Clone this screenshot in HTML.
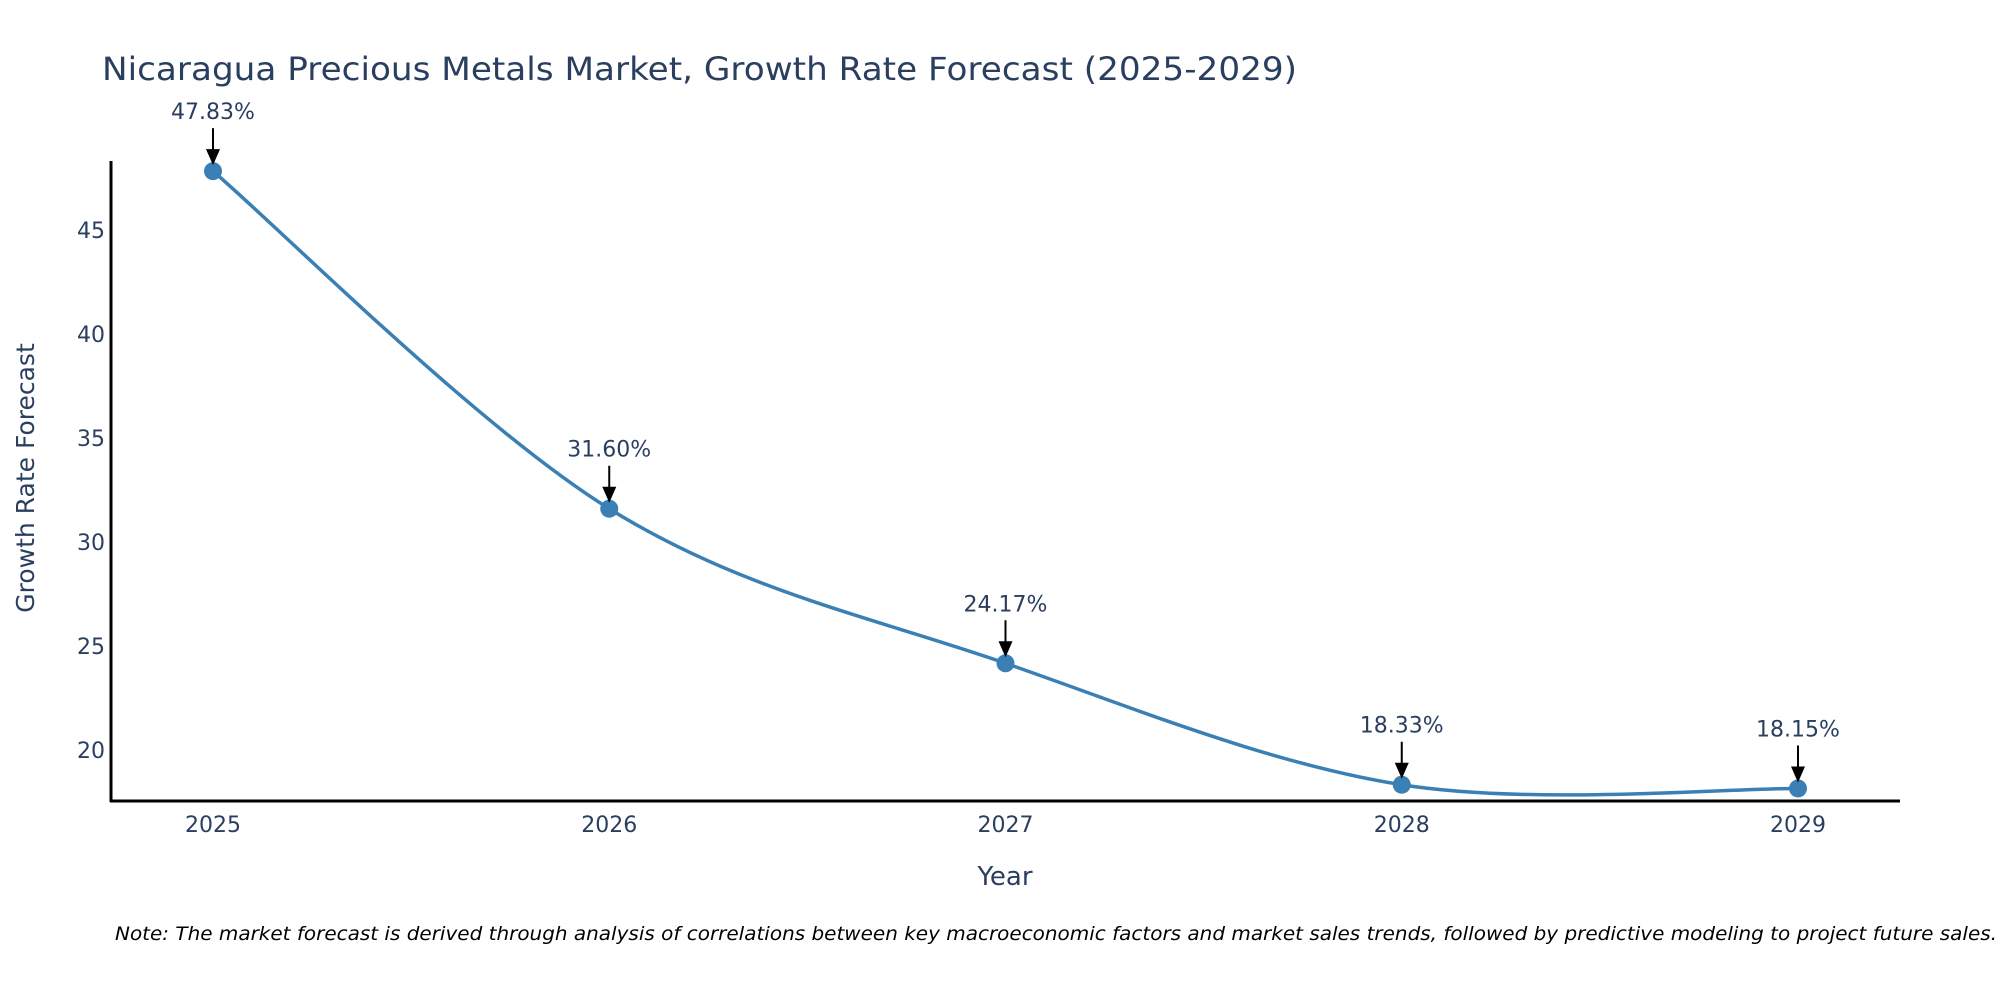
<!DOCTYPE html>
<html><head><meta charset="utf-8"><style>
html,body{margin:0;padding:0;background:#fff;}
svg{display:block;font-family:"DejaVu Sans","Liberation Sans",sans-serif;}
</style></head><body>
<svg id="chart" width="2000" height="1000" viewBox="0 0 2000 1000">
<text x="102" y="80" font-size="32" fill="#2a3f5f" textLength="1195" lengthAdjust="spacingAndGlyphs">Nicaragua Precious Metals Market, Growth Rate Forecast (2025-2029)</text>
<g id="yticks"></g>
<g id="xticks"></g>
<path id="line" fill="none" stroke="#3a80b4" stroke-width="3.5"></path>
<g id="points"></g>
<g id="annots"></g>
<line x1="111" y1="161" x2="111" y2="802" stroke="#000" stroke-width="3"/>
<line x1="110" y1="801" x2="1900" y2="801" stroke="#000" stroke-width="3"/>
<text x="0" y="0" font-size="25" fill="#2a3f5f" text-anchor="middle" transform="translate(34,478) rotate(-90)">Growth Rate Forecast</text>
<text x="1005" y="885" font-size="26" fill="#2a3f5f" text-anchor="middle">Year</text>
<text x="115" y="940" font-size="19" font-style="italic" fill="#000" textLength="1882" lengthAdjust="spacingAndGlyphs">Note: The market forecast is derived through analysis of correlations between key macroeconomic factors and market sales trends, followed by predictive modeling to project future sales.</text>
</svg>
<script>
const years = [2025, 2026, 2027, 2028, 2029];
const values = [47.83, 31.60, 24.17, 18.33, 18.15];
const labels = ["47.83%", "31.60%", "24.17%", "18.33%", "18.15%"];
const yTicks = [20, 25, 30, 35, 40, 45];

const NS = "http://www.w3.org/2000/svg";
function xScale(v){ return 213 + (v - 2025) * (1798 - 213) / 4; }
function yScale(v){ return 750 - (v - 20) * 20.8; }
function mk(tag, attrs, parent){
  const e = document.createElementNS(NS, tag);
  for (const k in attrs) e.setAttribute(k, attrs[k]);
  parent.appendChild(e);
  return e;
}
const yt = document.getElementById('yticks');
yTicks.forEach(t => {
  const e = mk('text', {x:105, y:yScale(t)+8, 'font-size':22, fill:'#2a3f5f', 'text-anchor':'end'}, yt);
  
  
  e.textContent = t;
});
const xt = document.getElementById('xticks');
years.forEach(y => {
  const e = mk('text', {x:xScale(y), y:832, 'font-size':22, fill:'#2a3f5f', 'text-anchor':'middle'}, xt);
  
  
  e.textContent = y;
});
const P = years.map((y,i)=>[xScale(y), yScale(values[i])]);
let d = `M${P[0][0]},${P[0][1]}`;
for (let i=0;i<P.length-1;i++){
  const p0 = P[i-1]||P[i], p1=P[i], p2=P[i+1], p3=P[i+2]||P[i+1];
  const c1=[p1[0]+(p2[0]-p0[0])/6, p1[1]+(p2[1]-p0[1])/6];
  const c2=[p2[0]-(p3[0]-p1[0])/6, p2[1]-(p3[1]-p1[1])/6];
  d += ` C${c1[0]},${c1[1]} ${c2[0]},${c2[1]} ${p2[0]},${p2[1]}`;
}
document.getElementById('line').setAttribute('d', d);
const pts = document.getElementById('points');
const an = document.getElementById('annots');
P.forEach((p,i)=>{
  const c = mk('circle', {cx:p[0], cy:p[1], r:9, fill:'#3a80b4'}, pts);
  
  
  const l = mk('line', {x1:p[0], y1:p[1]-43, x2:p[0], y2:p[1]-20, stroke:'#000', 'stroke-width':2}, an);
  
  
  const h = mk('polygon', {points:`${p[0]-7},${p[1]-22} ${p[0]+7},${p[1]-22} ${p[0]},${p[1]-6}`, fill:'#000'}, an);
  
  
  const t = mk('text', {x:p[0], y:p[1]-52, 'font-size':22, fill:'#2a3f5f', 'text-anchor':'middle'}, an);
  
  
  t.textContent = labels[i];
});
</script>
</body></html>
